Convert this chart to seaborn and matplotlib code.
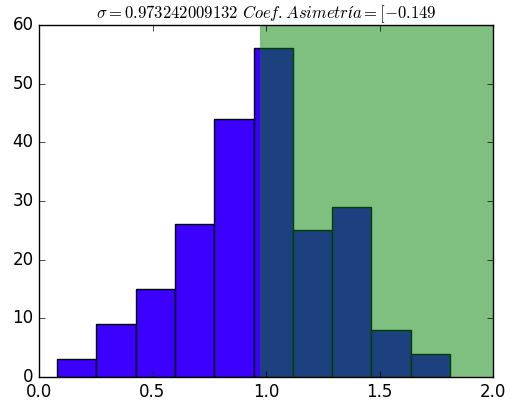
import numpy as np
import pandas as pd
import matplotlib
matplotlib.use("Agg")
import matplotlib.pyplot as plt
import seaborn as sns

plt.style.use("classic")
plt.rcParams["mathtext.fontset"] = "cm"

bin_lo = 0.079
bin_hi = 1.811
counts = [3, 9, 15, 26, 44, 56, 25, 29, 8, 4]
sigma_label = "0.973242009132"
span_start = 0.973242009132
span_end = 2.0

edges = np.linspace(bin_lo, bin_hi, len(counts) + 1)
centers = (edges[:-1] + edges[1:]) / 2
df = pd.DataFrame({"x": centers, "w": np.asarray(counts, dtype=float)})

fig = plt.figure(figsize=(5.21, 4.0), dpi=100)
ax = fig.add_axes([39/521, 23/400, (493-39)/521, (377-25)/400])
sns.histplot(data=df, x="x", weights="w", bins=list(edges), color="#3c00ff", alpha=1.0,
             edgecolor="black", linewidth=1.0, ax=ax)
ax.axvspan(span_start, span_end, color="green", alpha=0.5, lw=0)
ax.set_xlim(0, 2.0)
ax.set_ylim(0, 60)
ax.set_xticks([0, 0.5, 1.0, 1.5, 2.0])
ax.set_yticks(range(0, 61, 10))
ax.set_xlabel("")
ax.set_ylabel("")
ax.set_title(r"$\sigma = " + sigma_label + r"\ Coef. Asimetría = [-0.149$", fontsize=12)
fig.savefig("out.png", dpi=100)
